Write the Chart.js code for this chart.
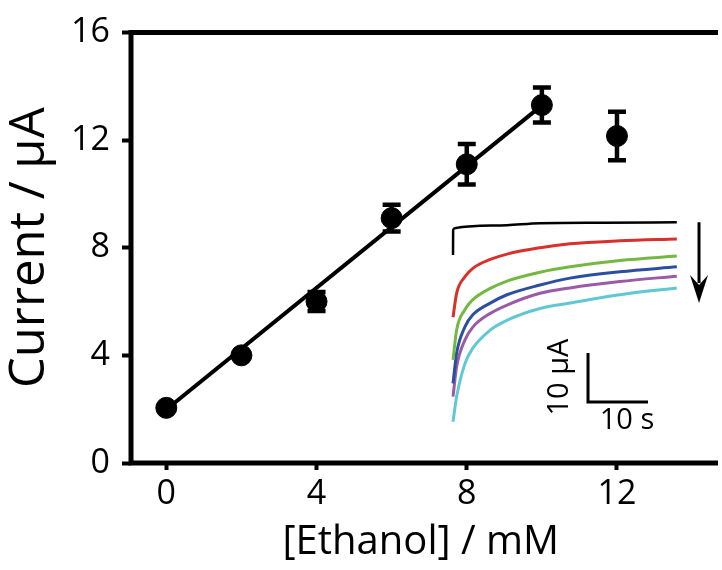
<!DOCTYPE html>
<html>
<head>
<meta charset="utf-8">
<script src="https://cdn.jsdelivr.net/npm/chart.js@4"></script>
<style>
  html, body { margin: 0; padding: 0; background: #fff; }
  #wrap { position: relative; width: 722px; height: 570px; overflow: hidden; }
  #mainChart { position: absolute; left: 0; top: 0; }
  #insetChart { position: absolute; left: 440px; top: 200px; pointer-events: none; }
</style>
</head>
<body>
<div id="wrap">
  <canvas id="mainChart" width="722" height="570"></canvas>
  <canvas id="insetChart" width="282" height="250"></canvas>
</div>
<script>
// main calibration data
const ethanol = [0, 2, 4, 6, 8, 10, 12];
const current = [2.05, 4.0, 6.0, 9.1, 11.1, 13.3, 12.15];
const currentErr = [0.15, 0.12, 0.35, 0.5, 0.75, 0.65, 0.9];
const fitX = [0, 10];
const fitY = [1.99, 13.29];
const xTicks = [0, 4, 8, 12];
const yTicks = [0, 4, 8, 12, 16];

// inset amperometric traces (time in s, current in uA, arbitrary offset)
const blankTime = [0, 0.02, 0.3, 1.2, 3.3, 9, 14.5, 25, 37.3];
const blankTrace = [35.7, 40.8, 41.2, 41.4, 41.6, 41.8, 42.2, 42.3, 42.4];
const traceTime = [0, 0.6, 2, 3.3, 6.2, 9, 14.5, 19.5, 27.8, 37.3];
const redTrace = [23.0, 27.9, 31.3, 33.0, 34.8, 35.9, 37.2, 38.0, 38.6, 39.0];
const greenTrace = [14.3, 20.4, 24.6, 26.6, 28.9, 30.4, 32.2, 33.3, 34.6, 35.5];
const blueTrace = [9.5, 15.7, 21.1, 23.5, 25.9, 27.6, 29.6, 31.0, 32.3, 33.3];
const purpleTrace = [6.8, 12.9, 18.4, 21.0, 23.8, 25.5, 27.9, 29.0, 30.3, 31.4];
const cyanTrace = [1.7, 6.8, 13.6, 16.7, 20.4, 22.4, 24.8, 25.9, 27.6, 29.0];
const traceColors = ['#d9302c', '#74b843', '#2b4f9e', '#9b5aa8', '#5fc8d2'];
const scaleBarX = [22.5, 22.5, 32.5];
const scaleBarY = [15.7, 5.7, 5.7];

const FONT = '"Open Sans", "Noto Sans", sans-serif';

const toPoints = (xs, ys) => xs.map((x, i) => ({ x: x, y: ys[i] }));

const errorBars = {
    id: 'errorBars',
    afterDatasetsDraw(chart) {
        const { ctx, scales: { x, y } } = chart;
        ctx.save();
        ctx.strokeStyle = '#000';
        ctx.lineWidth = 4.5;
        ethanol.forEach((v, i) => {
            const px = x.getPixelForValue(v);
            const top = y.getPixelForValue(current[i] + currentErr[i]);
            const bot = y.getPixelForValue(current[i] - currentErr[i]);
            ctx.beginPath();
            ctx.moveTo(px, top); ctx.lineTo(px, bot);
            if (currentErr[i] > 0.2) {
                ctx.moveTo(px - 9, top); ctx.lineTo(px + 9, top);
                ctx.moveTo(px - 9, bot); ctx.lineTo(px + 9, bot);
            }
            ctx.stroke();
        });
        ctx.restore();
    }
};

// left, bottom and top frame lines (right side is cut off in the original)
const frame = {
    id: 'frame',
    afterDraw(chart) {
        const { ctx, chartArea: a } = chart;
        ctx.save();
        ctx.strokeStyle = '#000';
        ctx.lineWidth = 5;
        ctx.lineCap = 'square';
        ctx.beginPath();
        ctx.moveTo(a.right + 5, a.top);
        ctx.lineTo(a.left, a.top);
        ctx.lineTo(a.left, a.bottom);
        ctx.lineTo(a.right + 5, a.bottom);
        ctx.stroke();
        ctx.restore();
    }
};

new Chart(document.getElementById('mainChart'), {
    type: 'scatter',
    data: {
        datasets: [{
            label: 'fit',
            type: 'line',
            data: toPoints(fitX, fitY),
            borderColor: '#000',
            borderWidth: 4,
            pointRadius: 0,
            order: 2
        }, {
            label: 'current',
            data: toPoints(ethanol, current),
            backgroundColor: '#000',
            borderColor: '#000',
            pointRadius: 10.5,
            order: 1
        }]
    },
    options: {
        responsive: false,
        animation: false,
        layout: { padding: { top: 26, right: 0, left: 0, bottom: 0 } },
        plugins: { legend: { display: false }, tooltip: { enabled: false } },
        scales: {
            x: {
                type: 'linear',
                min: -0.94,
                max: 14.49,
                afterFit: s => { s.height = 107; },
                afterBuildTicks: s => { s.ticks = xTicks.map(v => ({ value: v })); },
                border: { display: false },
                grid: { display: true, drawOnChartArea: false, tickLength: 7, tickWidth: 4, tickColor: '#000' },
                ticks: { color: '#000', padding: 4, font: { family: FONT, size: 34 } },
                title: {
                    display: true,
                    text: '[Ethanol] / mM',
                    color: '#000',
                    padding: { top: 0, bottom: 3 },
                    font: { family: FONT, size: 40 }
                }
            },
            y: {
                type: 'linear',
                min: 0,
                max: 16,
                afterFit: s => { s.width = 131; },
                afterBuildTicks: s => { s.ticks = yTicks.map(v => ({ value: v })); },
                border: { display: false },
                grid: { display: true, drawOnChartArea: false, tickLength: 9, tickWidth: 4, tickColor: '#000' },
                ticks: { color: '#000', padding: 12, font: { family: FONT, size: 34 } },
                title: {
                    display: true,
                    text: 'Current / μA',
                    color: '#000',
                    padding: { top: 1, bottom: 0 },
                    font: { family: FONT, size: 49 }
                }
            }
        }
    },
    plugins: [errorBars, frame]
});

const insetDecor = {
    id: 'insetDecor',
    afterDatasetsDraw(chart) {
        const { ctx, scales: { x, y } } = chart;
        ctx.save();
        // downward arrow
        const ax = x.getPixelForValue(41);
        const ay0 = y.getPixelForValue(42.4);
        const ay1 = y.getPixelForValue(25.9);
        ctx.strokeStyle = '#000';
        ctx.fillStyle = '#000';
        ctx.lineWidth = 3;
        ctx.beginPath();
        ctx.moveTo(ax, ay0); ctx.lineTo(ax, ay1 - 20);
        ctx.stroke();
        ctx.beginPath();
        ctx.moveTo(ax - 9, ay1 - 28);
        ctx.lineTo(ax, ay1 - 18);
        ctx.lineTo(ax + 9, ay1 - 28);
        ctx.lineTo(ax, ay1);
        ctx.closePath();
        ctx.fill();
        // scale bar labels
        ctx.font = '29px ' + FONT;
        ctx.textAlign = 'center';
        ctx.textBaseline = 'middle';
        ctx.fillText('10 s', x.getPixelForValue(29), y.getPixelForValue(1.9));
        ctx.translate(x.getPixelForValue(17.8), y.getPixelForValue(10.8));
        ctx.rotate(-Math.PI / 2);
        ctx.fillText('10 μA', 0, 0);
        ctx.restore();
    }
};

const insetTraces = [redTrace, greenTrace, blueTrace, purpleTrace, cyanTrace];
new Chart(document.getElementById('insetChart'), {
    type: 'line',
    data: {
        datasets: [{
            data: toPoints(blankTime, blankTrace),
            borderColor: '#000',
            borderWidth: 2.5,
            pointRadius: 0,
            cubicInterpolationMode: 'monotone'
        }].concat(insetTraces.map((tr, i) => ({
            data: toPoints(traceTime, tr),
            borderColor: traceColors[i],
            borderWidth: 3,
            pointRadius: 0,
            cubicInterpolationMode: 'monotone'
        }))).concat([{
            data: toPoints(scaleBarX, scaleBarY),
            borderColor: '#000',
            borderWidth: 3,
            pointRadius: 0,
            tension: 0
        }])
    },
    options: {
        responsive: false,
        animation: false,
        layout: { padding: 0 },
        plugins: { legend: { display: false }, tooltip: { enabled: false } },
        scales: {
            x: { type: 'linear', display: false, min: -2.17, max: 44.83 },
            y: { type: 'linear', display: false, min: -4.08, max: 46.94 }
        }
    },
    plugins: [insetDecor]
});
</script>
</body>
</html>
